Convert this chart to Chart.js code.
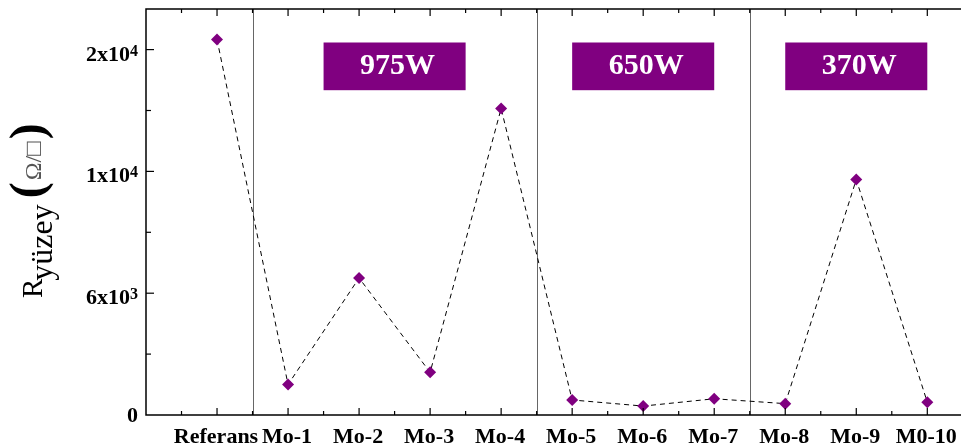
<!DOCTYPE html>
<html>
<head>
<meta charset="utf-8">
<script src="https://cdn.jsdelivr.net/npm/chart.js@4"></script>
<style>
    html, body { margin: 0; padding: 0; background: #fff; }
    #wrap { width: 961px; height: 448px; }
</style>
</head>
<body>
<div id="wrap"><canvas id="chart" width="961" height="448"></canvas></div>
<script>
// Surface resistance per sample, grouped by power
const categories = ['Referans', 'Mo-1', 'Mo-2', 'Mo-3', 'Mo-4', 'Mo-5', 'Mo-6', 'Mo-7', 'Mo-8', 'Mo-9', 'M0-10'];
const resistance = [18500, 1500, 6750, 2100, 15100, 740, 440, 800, 560, 11600, 630];

// Y ticks as printed on the original figure
const yTickValues = [0, 6000, 12000, 18000];
const yTickLabels = [['0'], ['6x10', '3'], ['1x10', '4'], ['2x10', '4']];

// Group boxes and separators (in category units)
const groupLabels = ['975W', '650W', '370W'];
const groupStart = [1.5, 5, 8];
const groupEnd = [3.5, 7, 10];
const groupBoxLow = 16000;
const groupBoxHigh = 18350;
const separators = [0.5, 4.5, 7.5];

const SERIF = "'Liberation Serif', 'Times New Roman', serif";
const PURPLE = '#800080';

const points = categories.map((c, i) => ({ x: i, y: resistance[i] }));

// Draws frame, inward ticks, labels, group boxes and axis title
const decorPlugin = {
    id: 'decor',
    beforeDatasetsDraw(chart) {
        const ctx = chart.ctx;
        const xs = chart.scales.x;
        const ys = chart.scales.y;
        const a = chart.chartArea;
        ctx.save();

        // separators
        ctx.strokeStyle = '#666';
        ctx.lineWidth = 1;
        separators.forEach(s => {
            const px = Math.round(xs.getPixelForValue(s)) + 0.5;
            ctx.beginPath();
            ctx.moveTo(px, a.top);
            ctx.lineTo(px, a.bottom);
            ctx.stroke();
        });

        // group boxes
        groupLabels.forEach((label, i) => {
            const x1 = xs.getPixelForValue(groupStart[i]);
            const x2 = xs.getPixelForValue(groupEnd[i]);
            const y1 = ys.getPixelForValue(groupBoxHigh);
            const y2 = ys.getPixelForValue(groupBoxLow);
            ctx.fillStyle = PURPLE;
            ctx.fillRect(x1, y1, x2 - x1, y2 - y1);
            ctx.fillStyle = '#fff';
            ctx.font = 'bold 30px ' + SERIF;
            ctx.textAlign = 'center';
            ctx.textBaseline = 'middle';
            ctx.fillText(label, (x1 + x2) / 2 + 3, (y1 + y2) / 2);
        });
        ctx.restore();
    },
    afterDraw(chart) {
        const ctx = chart.ctx;
        const xs = chart.scales.x;
        const ys = chart.scales.y;
        const a = chart.chartArea;
        ctx.save();

        // frame: left, top, bottom
        ctx.strokeStyle = '#000';
        ctx.lineWidth = 1.5;
        ctx.beginPath();
        ctx.moveTo(chart.width, a.top);
        ctx.lineTo(a.left, a.top);
        ctx.lineTo(a.left, a.bottom);
        ctx.lineTo(chart.width, a.bottom);
        ctx.stroke();

        // x ticks (inward, bottom and top)
        ctx.lineWidth = 1.2;
        for (let v = -0.5; v <= categories.length - 0.5; v += 0.5) {
            const px = xs.getPixelForValue(v);
            const len = Number.isInteger(v) ? 7 : 4;
            ctx.beginPath();
            ctx.moveTo(px, a.bottom);
            ctx.lineTo(px, a.bottom - len);
            ctx.moveTo(px, a.top);
            ctx.lineTo(px, a.top + len);
            ctx.stroke();
        }

        // y ticks (inward)
        for (let v = 3000; v <= 18000; v += 3000) {
            const py = ys.getPixelForValue(v);
            const len = v % 6000 === 0 ? 8 : 5;
            ctx.beginPath();
            ctx.moveTo(a.left, py);
            ctx.lineTo(a.left + len, py);
            ctx.stroke();
        }

        // category labels
        ctx.fillStyle = '#000';
        ctx.font = 'bold 22px ' + SERIF;
        ctx.textAlign = 'center';
        ctx.textBaseline = 'alphabetic';
        categories.forEach((c, i) => {
            ctx.fillText(c, xs.getPixelForValue(i) - 1, a.bottom + 28);
        });

        // y tick labels with superscripts
        yTickValues.forEach((v, i) => {
            const py = ys.getPixelForValue(v);
            const parts = yTickLabels[i];
            const right = a.left - 8;
            if (parts.length === 1) {
                ctx.font = 'bold 22px ' + SERIF;
                ctx.textAlign = 'right';
                ctx.fillText(parts[0], right, py + 7);
            } else {
                ctx.font = 'bold 16px ' + SERIF;
                const supW = ctx.measureText(parts[1]).width;
                ctx.textAlign = 'left';
                ctx.fillText(parts[1], right - supW, py + 6);
                ctx.font = 'bold 22px ' + SERIF;
                ctx.textAlign = 'right';
                ctx.fillText(parts[0], right - supW, py + 11);
            }
        });

        // y axis title: R_yüzey (Ω/□)
        ctx.translate(42, 298);
        ctx.rotate(-Math.PI / 2);
        ctx.textAlign = 'left';
        ctx.textBaseline = 'alphabetic';
        let x = 0;
        ctx.font = '29px ' + SERIF;
        ctx.fillText('R', x, 0);
        x += ctx.measureText('R').width - 2;
        ctx.font = '32px ' + SERIF;
        ctx.fillText('yüzey', x, 10);
        x += ctx.measureText('yüzey').width + 6;
        ctx.font = 'bold 48px ' + SERIF;
        ctx.fillText('(', x, 1);
        x += ctx.measureText('(').width + 2;
        ctx.font = '24px ' + SERIF;
        ctx.fillStyle = '#555';
        ctx.fillText('\u03A9/\u25A1', x, -1);
        x += ctx.measureText('\u03A9/\u25A1').width + 2;
        ctx.fillStyle = '#000';
        ctx.font = 'bold 48px ' + SERIF;
        ctx.fillText(')', x, 1);

        ctx.restore();
    }
};

new Chart(document.getElementById('chart').getContext('2d'), {
    type: 'line',
    data: {
        datasets: [{
            label: 'Ryüzey',
            data: points,
            borderColor: '#000',
            borderWidth: 1,
            borderDash: [5, 4],
            pointStyle: 'rectRot',
            pointRadius: 6,
            pointBackgroundColor: PURPLE,
            pointBorderColor: PURPLE,
            pointBorderWidth: 0,
            tension: 0,
            clip: false
        }]
    },
    options: {
        responsive: false,
        animation: false,
        layout: { padding: { left: 146, top: 9, right: 0, bottom: 33 } },
        plugins: {
            legend: { display: false },
            tooltip: { enabled: false }
        },
        scales: {
            x: {
                type: 'linear',
                min: -1,
                max: 10.39,
                display: true,
                grid: { display: false, drawTicks: false },
                border: { display: false },
                ticks: { display: false }
            },
            y: {
                min: 0,
                max: 20000,
                display: true,
                grid: { display: false, drawTicks: false },
                border: { display: false },
                ticks: { display: false }
            }
        }
    },
    plugins: [decorPlugin]
});
</script>
</body>
</html>
